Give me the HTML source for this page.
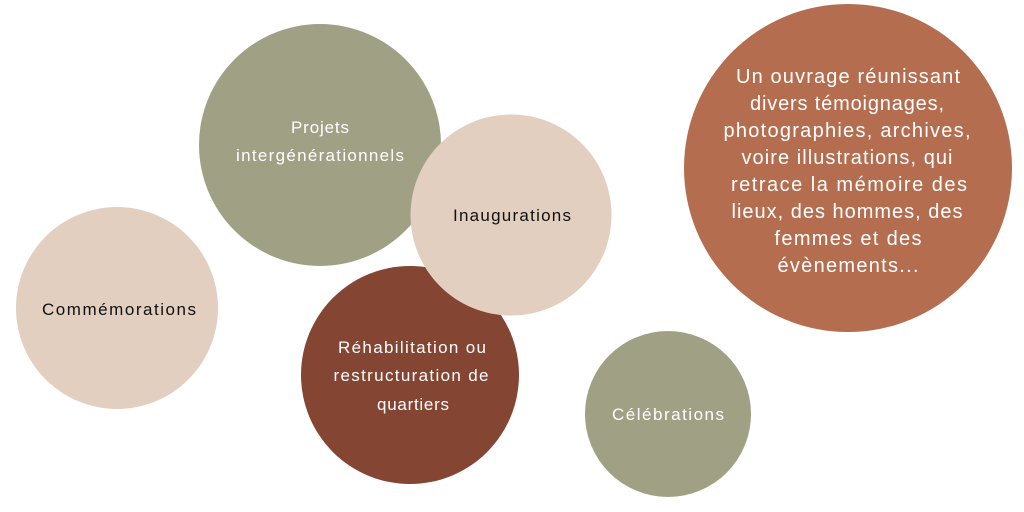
<!DOCTYPE html>
<html><head><meta charset="utf-8"><style>
html,body{margin:0;padding:0;background:#fff;width:1024px;height:512px;overflow:hidden}
svg{display:block}
text{font-family:"Liberation Sans",sans-serif;text-anchor:middle}
</style></head><body>
<svg width="1024" height="512" viewBox="0 0 1024 512">
<circle cx="320" cy="145" r="121" fill="#a0a084"/>
<circle cx="117" cy="308" r="101" fill="#e2cfc0"/>
<circle cx="410" cy="375" r="109" fill="#844533"/>
<circle cx="511" cy="215" r="100.5" fill="#e2cfc0"/>
<circle cx="668" cy="414" r="83" fill="#a0a084"/>
<circle cx="848" cy="168" r="164" fill="#b56d50"/>
<g font-size="17" fill="#fff" lengthAdjust="spacing">
<text x="320" y="133" textLength="58">Projets</text>
<text x="320" y="161" textLength="168">intergénérationnels</text>
<text x="412" y="353" textLength="148">Réhabilitation ou</text>
<text x="411" y="381" textLength="155">restructuration de</text>
<text x="413" y="410" textLength="72">quartiers</text>
<text x="668" y="420" textLength="112">Célébrations</text>
</g>
<g font-size="17" fill="#111">
<text x="512" y="221" textLength="118">Inaugurations</text>
<text x="119" y="315" textLength="154">Commémorations</text>
</g>
<g font-size="20" fill="#fff">
<text x="848" y="83" textLength="224">Un ouvrage réunissant</text>
<text x="847" y="110" textLength="194">divers témoignages,</text>
<text x="847" y="137" textLength="247">photographies, archives,</text>
<text x="847" y="164" textLength="211">voire illustrations, qui</text>
<text x="849" y="191" textLength="236">retrace la mémoire des</text>
<text x="847" y="218" textLength="231">lieux, des hommes, des</text>
<text x="848" y="245" textLength="147">femmes et des</text>
<text x="848" y="272" textLength="141">évènements...</text>
</g>
</svg>
</body></html>
